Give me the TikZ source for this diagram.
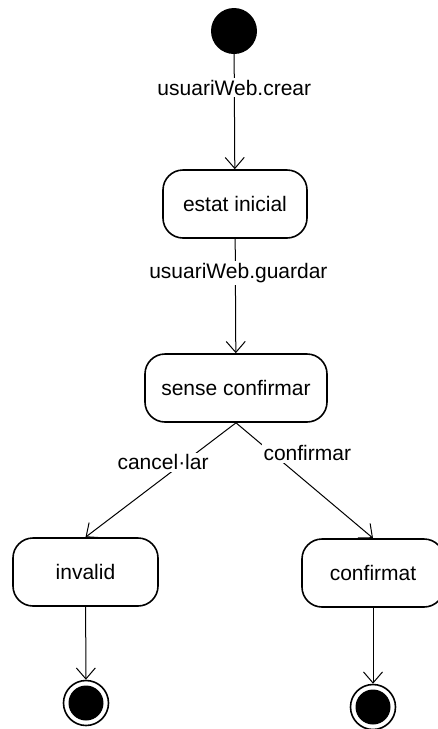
\documentclass[tikz,border=0pt]{standalone}
\usepackage{fontspec}
\setmainfont{Liberation Sans}
\usetikzlibrary{arrows.meta}
\begin{document}
\begin{tikzpicture}[x=1pt,y=-1pt,
  every node/.style={font=\fontsize{21}{25}\selectfont},
  state/.style={draw, line width=1.6pt, rounded corners=20pt, fill=white,
    minimum height=68pt, inner sep=0pt},
  startdot/.style={circle, fill=black, minimum size=46pt, inner sep=0pt},
  enddot/.style={circle, draw, line width=1.6pt, fill=white, minimum size=45pt, inner sep=0pt,
    path picture={\fill[black] (path picture bounding box.center) circle (17.5pt);}},
  conn/.style={line width=1pt, -{Straight Barb[length=11pt,width=19pt,line width=1pt]}},
  lbl/.style={fill=white, inner sep=2pt}]
\useasboundingbox (0,0) rectangle (437,729);
\fill[white] (0,0) rectangle (437,729);

% states
\node[startdot] (init) at (234,31) {};
\node[state, minimum width=144pt] (estat) at (235,204) {estat inicial};
\node[state, minimum width=182pt] (sense) at (236,388) {sense confirmar};
\node[state, minimum width=145pt] (invalid) at (85.5,572) {invalid};
\node[state, minimum width=142pt] (confirmat) at (373,573) {confirmat};
\node[enddot] (fin1) at (86,703) {};
\node[enddot] (fin2) at (373,707) {};

% transitions
\draw[conn] (init) -- node[lbl, pos=0.29] {usuariWeb.crear} (estat);
\draw[conn] (estat) -- node[lbl, pos=0.30, xshift=3pt] {usuariWeb.guardar} (sense);
\draw[conn] (sense.south) -- node[lbl, pos=0.345, xshift=-21pt] {cancel·lar} (invalid.north);
\draw[conn] (sense.south) -- node[lbl, pos=0.265, xshift=35pt] {confirmar} (confirmat.north);
\draw[conn] (invalid) -- (fin1);
\draw[conn] (confirmat) -- (fin2);
\end{tikzpicture}
\end{document}
